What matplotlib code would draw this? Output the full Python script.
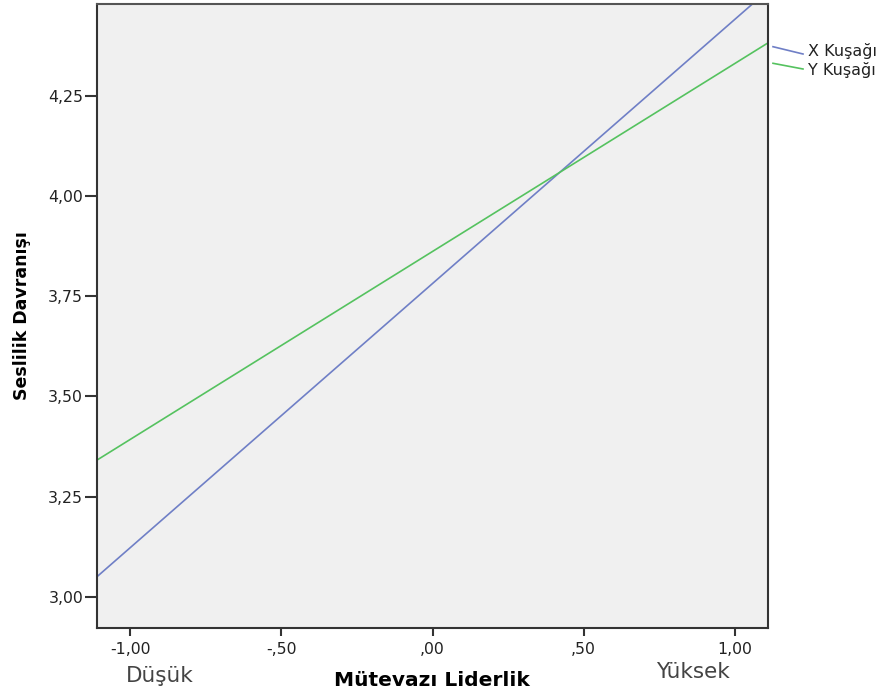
import matplotlib
matplotlib.use('Agg')
import matplotlib.pyplot as plt
from matplotlib.lines import Line2D

# data: fitted lines at the axis edges
x_ends = [-1.11, 1.11]
x_kusagi = [3.050, 4.513]
y_kusagi = [3.341, 4.382]
groups = ['X Kuşağı', 'Y Kuşağı']
colors = ['#6f7fc6', '#55c25f']
xticks = [-1.0, -0.5, 0.0, 0.5, 1.0]
xtick_labels = ['-1,00', '-,50', ',00', ',50', '1,00']
yticks = [3.0, 3.25, 3.5, 3.75, 4.0, 4.25]
ytick_labels = ['3,00', '3,25', '3,50', '3,75', '4,00', '4,25']

plt.rcParams['font.family'] = ['DejaVu Sans']

fig = plt.figure(figsize=(8.83, 6.92), dpi=100)
ax = fig.add_axes([97 / 883, 1 - 628 / 692, (768 - 97) / 883, (628 - 4) / 692])
ax.set_facecolor('#f0f0f0')

ax.plot(x_ends, x_kusagi, color=colors[0], lw=1.2, solid_capstyle='butt')
ax.plot(x_ends, y_kusagi, color=colors[1], lw=1.2, solid_capstyle='butt')

ax.set_xlim(-1.11, 1.11)
ax.set_ylim(2.922, 4.479)
ax.set_xticks(xticks)
ax.set_xticklabels(xtick_labels)
ax.set_yticks(yticks)
ax.set_yticklabels(ytick_labels)
ax.tick_params(axis='x', length=6, width=1.5, color='#333333', labelsize=11.3, labelcolor='#222222', pad=4)
ax.tick_params(axis='y', length=8.5, width=1.5, color='#333333', labelsize=11.3, labelcolor='#222222', pad=1.5)
for sp in ax.spines.values():
    sp.set_color('#333333')
    sp.set_linewidth(1.5)
ax.spines['top'].set_color('#555555')

fig.text(22 / 883, 1 - 316 / 692, 'Seslilik Davranışı', rotation=90, fontsize=12.5,
         fontweight='bold', ha='center', va='center')
fig.text(432 / 883, 1 - 680 / 692, 'Mütevazı Liderlik', fontsize=14.5,
         fontweight='bold', ha='center', va='center')
fig.text(160 / 883, 1 - 676 / 692, 'Düşük', fontsize=15.5, color='#444444',
         ha='center', va='center')
fig.text(693 / 883, 1 - 672 / 692, 'Yüksek', fontsize=15.5, color='#444444',
         ha='center', va='center')

# legend outside the plot on the right
leg_y = [[46.7, 54], [63.3, 69]]
text_y = [51, 70]
for i in range(2):
    fig.add_artist(Line2D([773 / 883, 803 / 883], [1 - leg_y[i][0] / 692, 1 - leg_y[i][1] / 692],
                          color=colors[i], lw=1.2, transform=fig.transFigure))
    fig.text(808 / 883, 1 - text_y[i] / 692, groups[i], fontsize=11.5, color='#222222',
             ha='left', va='center')

fig.savefig('out.png', dpi=100, facecolor='white')
